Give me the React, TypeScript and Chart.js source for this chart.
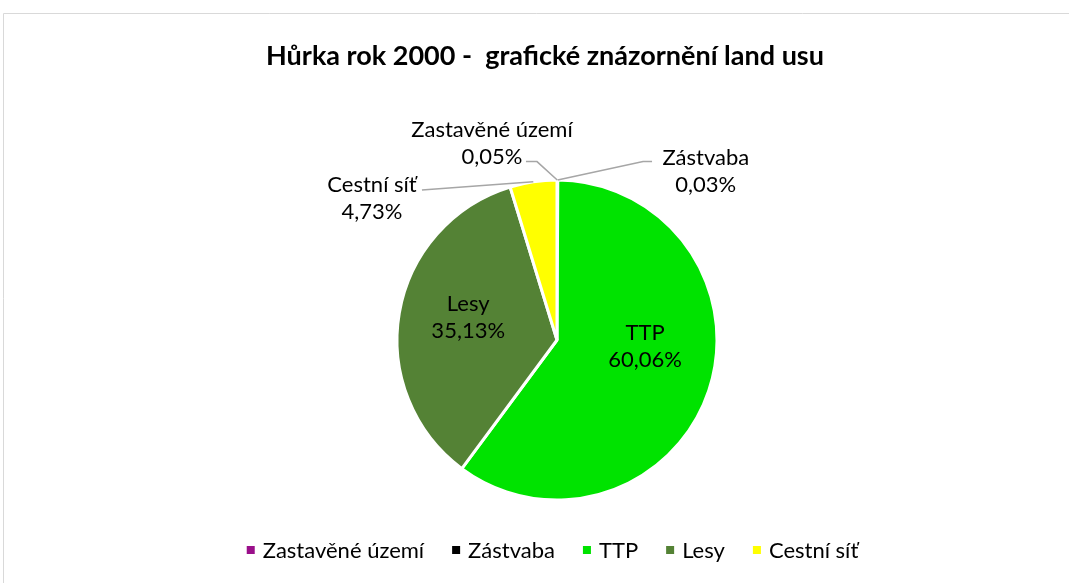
import React, { useEffect, useRef } from "react";
import { Chart, registerables } from "chart.js";

Chart.register(...registerables);

const chartTitle = "Hůrka rok 2000 -  grafické znázornění land usu";
const categories = ["Zastavěné území", "Zástvaba", "TTP", "Lesy", "Cestní síť"];
const shares = [0.05, 0.03, 60.06, 35.13, 4.73];
const sliceColors = ["#9a0f8a", "#000000", "#00e300", "#548235", "#ffff00"];

// label placement: inside slice or outside with a leader, offsets in units of radius
const labelLayout = [
  { mode: "out", dx: -0.406, dy: -1.23, elbowDx: -0.125, elbowDy: -1.115, startDx: -0.194, startDy: -1.115 },
  { mode: "out", dx: 0.93, dy: -1.056, elbowDx: 0.538, elbowDy: -1.115, startDx: 0.594, startDy: -1.115 },
  { mode: "in", dx: 0.55, dy: 0.04 },
  { mode: "in", dx: -0.555, dy: -0.14 },
  { mode: "out", dx: -1.156, dy: -0.888, elbowDx: null, elbowDy: null, startDx: -0.844, startDy: -0.938 },
];

const FONT = "Lato, 'Open Sans', sans-serif";

const fmt = (v: number) => v.toFixed(2).replace(".", ",") + "%";

const decorPlugin = {
  id: "decor",
  afterDraw(chart: any) {
    const ctx = chart.ctx as CanvasRenderingContext2D;
    const W = chart.width;
    const H = chart.height;
    ctx.save();
    // frame
    ctx.strokeStyle = "#d9d9d9";
    ctx.lineWidth = 1;
    ctx.beginPath();
    ctx.moveTo(3.5, H);
    ctx.lineTo(3.5, 13.5);
    ctx.lineTo(W, 13.5);
    ctx.stroke();

    // title
    ctx.fillStyle = "#000";
    ctx.font = `bold 27px ${FONT}`;
    ctx.textAlign = "center";
    ctx.textBaseline = "middle";
    ctx.fillText(chartTitle, 545, 56);

    const meta = chart.getDatasetMeta(0);
    const arc0 = meta.data[0];
    const cx = arc0.x;
    const cy = arc0.y;
    const R = arc0.outerRadius;

    ctx.font = `22px ${FONT}`;
    const lineGap = 27;
    meta.data.forEach((arc: any, i: number) => {
      const lay = labelLayout[i];
      const lx = cx + lay.dx * R;
      const ly = cy + lay.dy * R;
      if (lay.mode === "out") {
        const mid = (arc.startAngle + arc.endAngle) / 2;
        const ex = cx + Math.cos(mid) * R;
        const ey = cy + Math.sin(mid) * R;
        ctx.strokeStyle = "#a6a6a6";
        ctx.lineWidth = 1.5;
        ctx.beginPath();
        ctx.moveTo(cx + lay.startDx * R, cy + lay.startDy * R);
        if (lay.elbowDx !== null) ctx.lineTo(cx + (lay.elbowDx as number) * R, cy + (lay.elbowDy as number) * R);
        ctx.lineTo(ex, ey);
        ctx.stroke();
      }
      ctx.fillStyle = "#000";
      ctx.textAlign = "center";
      ctx.textBaseline = "middle";
      ctx.fillText(categories[i], lx, ly - lineGap / 2);
      ctx.fillText(fmt(shares[i]), lx, ly + lineGap / 2);
    });

    // legend
    ctx.font = `22px ${FONT}`;
    const box = 8;
    const boxGap = 8;
    const itemGap = 28;
    const widths = categories.map((c) => box + boxGap + ctx.measureText(c).width);
    const total = widths.reduce((a, b) => a + b, 0) + itemGap * (categories.length - 1);
    let x = 552.5 - total / 2;
    const ly = 550;
    categories.forEach((c, i) => {
      ctx.fillStyle = sliceColors[i];
      ctx.fillRect(x, ly - box / 2, box, box);
      ctx.fillStyle = "#000";
      ctx.textAlign = "left";
      ctx.textBaseline = "middle";
      ctx.fillText(c, x + box + boxGap, ly + 1);
      x += widths[i] + itemGap;
    });
    ctx.restore();
  },
};

export default function App() {
  const ref = useRef<HTMLCanvasElement>(null);
  useEffect(() => {
    if (!ref.current) return;
    const chart = new Chart(ref.current, {
      type: "pie",
      data: {
        labels: categories,
        datasets: [
          {
            data: shares,
            backgroundColor: sliceColors,
            borderColor: "#ffffff",
            borderWidth: 3,
          },
        ],
      },
      options: {
        animation: false,
        responsive: false,
        maintainAspectRatio: false,
        radius: 160,
        layout: { padding: { left: 357, right: 312, top: 140, bottom: 43 } },
        plugins: {
          legend: { display: false },
          title: { display: false },
          tooltip: { enabled: false },
        },
      } as any,
      plugins: [decorPlugin],
    });
    return () => chart.destroy();
  }, []);
  return (
    <div style={{ position: "absolute", left: 0, top: 0, width: 1069, height: 583, background: "#fff" }}>
      <canvas ref={ref} width={1069} height={583} style={{ width: 1069, height: 583, display: "block" }} />
    </div>
  );
}
